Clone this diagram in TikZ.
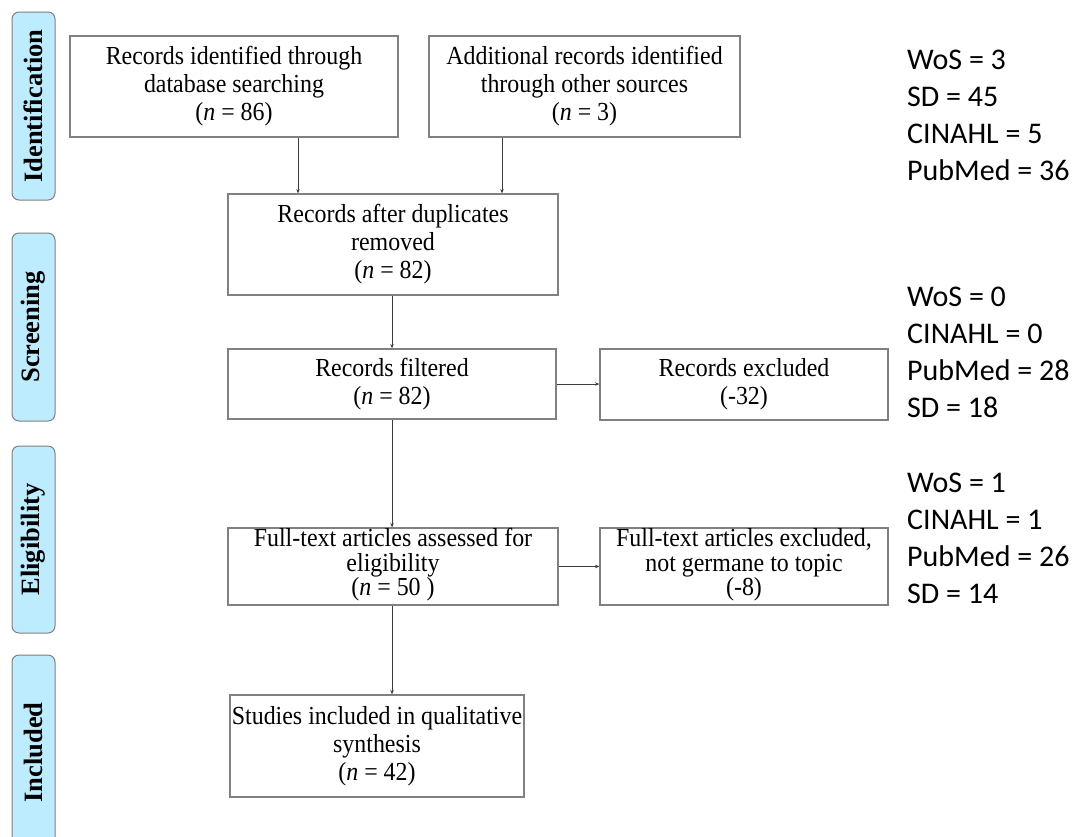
\documentclass[tikz,border=0pt]{standalone}
\usepackage{fontspec}
\setmainfont{Liberation Serif}[FakeStretch=0.92]
\newfontfamily\barserif{Liberation Serif}
\newfontfamily\calibrifont{Carlito}
\usetikzlibrary{arrows.meta}
\definecolor{barfill}{RGB}{190,236,255}
\definecolor{edgegrey}{RGB}{128,128,128}
\definecolor{arrowgrey}{RGB}{60,60,60}
\tikzset{
  flowbox/.style={draw=edgegrey, line width=1.2pt, fill=white, align=center, inner sep=0pt,
    font=\fontsize{26}{28}\selectfont},
  boxtext/.style={align=center, inner sep=0pt, font=\fontsize{26}{24.5}\selectfont},
  phasebar/.style={draw=edgegrey, line width=1pt, fill=barfill, rounded corners=7pt, rotate=90,
    minimum height=43pt, inner sep=0pt, font=\barserif\fontsize{26.5}{28}\selectfont\bfseries},
  conn/.style={draw=arrowgrey, line width=0.8pt, -{Stealth[length=4.5pt,width=3.5pt]}},
  counts/.style={anchor=west, align=left, inner sep=0pt, font=\calibrifont\fontsize{30}{37}\selectfont}
}
\begin{document}
\begin{tikzpicture}[x=1pt,y=-1pt]
\useasboundingbox (0,0) rectangle (1073,836);
% phase bars
\node[phasebar, minimum width=188pt] (pid) at (33.5,106) {Identification};
\node[phasebar, minimum width=188pt] (psc) at (33.5,327) {Screening};
\node[phasebar, minimum width=187pt] (pel) at (33.5,539.5) {Eligibility};
\node[phasebar, minimum width=195pt] (pin) at (33.5,752.5) {Included};
% boxes
\node[flowbox, minimum width=328pt, minimum height=101pt] (b1) at (234,86.5)
  {Records identified through\\database searching\\(\textit{n} = 86)};
\node[flowbox, minimum width=311pt, minimum height=101pt] (b2) at (584.5,86.5)
  {Additional records identified\\through other sources\\(\textit{n} = 3)};
\node[flowbox, minimum width=330pt, minimum height=101pt] (b3) at (393,244.5)
  {Records after duplicates\\removed\\(\textit{n} = 82)};
\node[flowbox, minimum width=328pt, minimum height=70pt] (b4) at (392,384)
  {Records filtered\\(\textit{n} = 82)};
\node[flowbox, minimum width=288pt, minimum height=71pt] (b5) at (744,384.5)
  {Records excluded\\(-32)};
\node[flowbox, minimum width=330pt, minimum height=77pt] (b6) at (393,566.5) {};
\node[boxtext] (t6) at (393,565)
  {Full-text articles assessed for\\eligibility\\(\textit{n} = 50 )};
\node[flowbox, minimum width=288pt, minimum height=77pt] (b7) at (744,566.5) {};
\node[boxtext] (t7) at (744,565)
  {Full-text articles excluded,\\not germane to topic\\(-8)};
\node[flowbox, minimum width=294pt, minimum height=102pt] (b8) at (377,746)
  {Studies included in qualitative\\synthesis\\(\textit{n} = 42)};
% connector columns
\coordinate (c1) at (298,0);
\coordinate (c2) at (502,0);
\coordinate (c3) at (392,0);
\draw[conn] (b1.south -| c1) -- (b3.north -| c1);
\draw[conn] (b2.south -| c2) -- (b3.north -| c2);
\draw[conn] (b3.south -| c3) -- (b4.north -| c3);
\draw[conn] (b4.east) -- (b5.west |- b4.east);
\draw[conn] (b4.south -| c3) -- (b6.north -| c3);
\draw[conn] (b6.east) -- (b7.west |- b6.east);
\draw[conn] (b6.south -| c3) -- (b8.north -| c3);
% counts
\node[counts] (n1) at (907,115.5) {WoS = 3\\SD = 45\\CINAHL = 5\\PubMed = 36};
\node[counts] (n2) at (907,352.5) {WoS = 0\\CINAHL = 0\\PubMed = 28\\SD = 18};
\node[counts] (n3) at (907,538) {WoS = 1\\CINAHL = 1\\PubMed = 26\\SD = 14};
\end{tikzpicture}
\end{document}
